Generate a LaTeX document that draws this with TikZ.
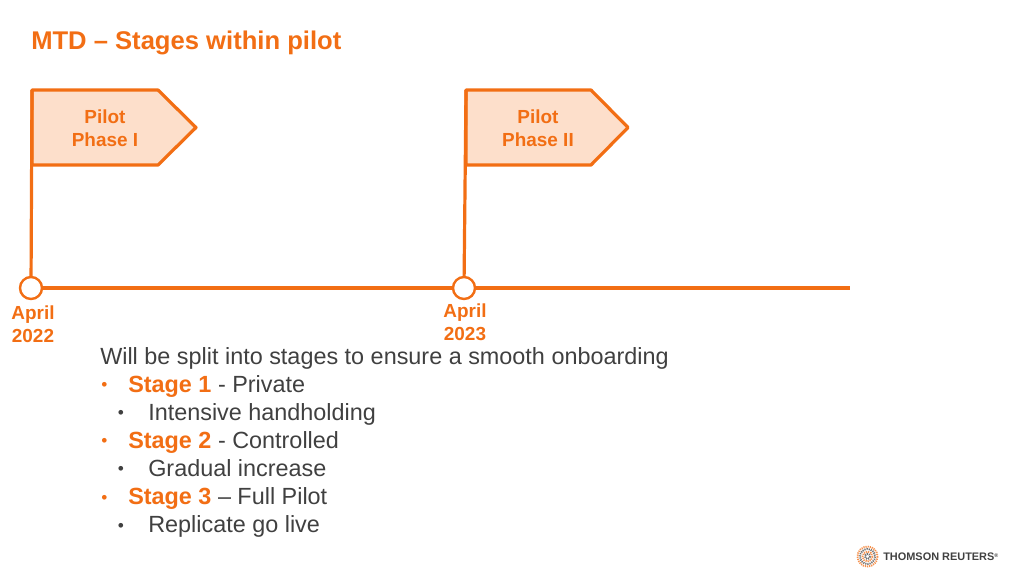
\documentclass[tikz,border=0pt]{standalone}
\usepackage{fontspec}
\setmainfont{Liberation Sans}
\definecolor{trorange}{HTML}{F26E14}
\definecolor{trfill}{HTML}{FDDFCB}
\definecolor{trgrey}{HTML}{404040}
\tikzset{
	flagshape/.style={draw=trorange,fill=trfill,line width=2.4pt,line join=round},
	pole/.style={draw=trorange,line width=2.4pt},
	dotmark/.style={circle,draw=trorange,fill=white,line width=1.8pt,minimum size=16.5pt,inner sep=0pt},
	flaglabel/.style={text=trorange,font=\fontsize{14.2}{17.3}\selectfont\bfseries,align=center,inner sep=0pt},
	bodyline/.style={anchor=base west,text=trgrey,font=\fontsize{17.55}{20}\selectfont,inner sep=0pt},
	bulletmark/.style={anchor=base west,text=trgrey,font=\fontsize{13}{15}\selectfont,inner sep=0pt},
}
\begin{document}
\begin{tikzpicture}[x=0.75pt,y=-0.75pt]
		
		% Page, in pixels of the slide
		\useasboundingbox (0,0) rectangle (1024,576);
		
		% Title
		\node[anchor=base west,text=trorange,font=\fontsize{19.2}{22}\selectfont\bfseries,inner sep=0pt] (title) at (31,49) {MTD – Stages within pilot};
		
		% Flag of phase I
		\coordinate (flagA) at (32,90);
		\draw[flagshape] (flagA) -- (158,90) -- (196,127.5) -- (158,165) -- (32,165) -- cycle;
		\node[flaglabel] (phaseA) at (105,128) {Pilot\\Phase I};
		
		% Flag of phase II
		\coordinate (flagB) at (466,90);
		\draw[flagshape] (flagB) -- (591,90) -- (628,127.5) -- (591,165) -- (466,165) -- cycle;
		\node[flaglabel] (phaseB) at (538,128) {Pilot\\Phase II};
		
		% Timeline
		\coordinate (lineend) at (850,288);
		\node[dotmark] (aprilA) at (31,288) {};
		\node[dotmark] (aprilB) at (464,288) {};
		\draw[pole] (aprilA) -- (aprilB);
		\draw[pole] (aprilB) -- (lineend);
		\draw[pole] (flagA) -- (aprilA);
		\draw[pole] (flagB) -- (aprilB);
		
		% Dates
		\node[flaglabel] (dateA) at (33,324) {April\\2022};
		\node[flaglabel] (dateB) at (465,322) {April\\2023};
		
		% Stages
		\node[bodyline] (intro) at (100,364) {Will be split into stages to ensure a smooth onboarding};
		\node[bulletmark,text=trorange] (bulA) at (101,390.5) {•};
		\node[bodyline] (stageA) at (128,392) {\textcolor{trorange}{\bfseries Stage 1} - Private};
		\node[bulletmark] (bulAA) at (117.5,418.5) {•};
		\node[bodyline] (subA) at (148,420) {Intensive handholding};
		\node[bulletmark,text=trorange] (bulB) at (101,446.5) {•};
		\node[bodyline] (stageB) at (128,448) {\textcolor{trorange}{\bfseries Stage 2} - Controlled};
		\node[bulletmark] (bulBB) at (117.5,474.5) {•};
		\node[bodyline] (subB) at (148,476.3) {Gradual increase};
		\node[bulletmark,text=trorange] (bulC) at (101,503) {•};
		\node[bodyline] (stageC) at (128,504.5) {\textcolor{trorange}{\bfseries Stage 3} – Full Pilot};
		\node[bulletmark] (bulCC) at (117.5,531) {•};
		\node[bodyline] (subC) at (148,532.5) {Replicate go live};
		
		% Logo
		\foreach \r/\c in {10/trorange,7.5/trgrey,5/trorange,2.5/trgrey}
		\draw[\c!75!white,line width=1.4pt,dash pattern=on 0.9pt off 0.7pt] (867.5,556.5) circle (\r);
		\node[anchor=base west,text=trgrey,font=\fontsize{8.2}{10}\selectfont\bfseries,inner sep=0pt] (logo) at (883,560.5) {THOMSON REUTERS\raisebox{2.5pt}{\fontsize{4}{4}\selectfont ®}};
		
\end{tikzpicture}
\end{document}
